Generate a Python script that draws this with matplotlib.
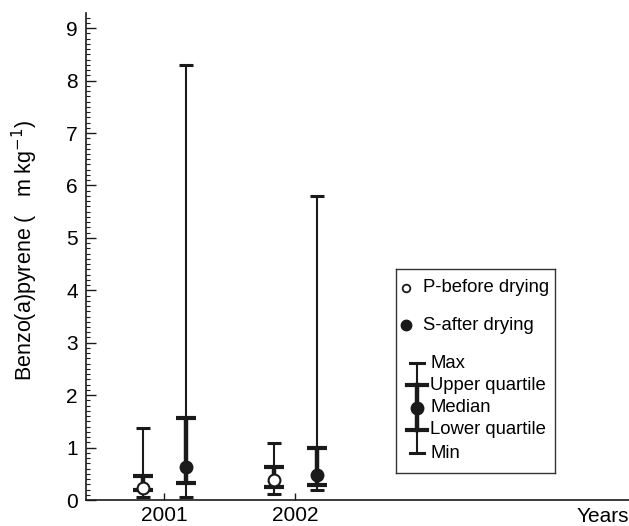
import matplotlib
matplotlib.use("Agg")
import matplotlib.pyplot as plt
import numpy as np
from matplotlib.ticker import MultipleLocator

plt.rcParams['font.family'] = ['Liberation Sans', 'DejaVu Sans']

# Data
years = [2001, 2002]
series = ["P-before drying", "S-after drying"]
p_min = [0.05, 0.11]
p_lq = [0.19, 0.25]
p_med = [0.23, 0.39]
p_uq = [0.46, 0.63]
p_max = [1.37, 1.09]
s_min = [0.05, 0.19]
s_lq = [0.32, 0.29]
s_med = [0.62, 0.48]
s_uq = [1.56, 0.99]
s_max = [8.30, 5.80]
yticks = list(range(0, 10))
xticks = [2001, 2002]

C = '#1a1a1a'
fig = plt.figure(figsize=(6.29, 5.26), dpi=100)
ax = fig.add_axes([86/629, 1-500/526, 1-86/629, (500-13)/526])

def draw(xs, mn, lq, md, uq, mx, face):
    xs = np.array(xs, float)
    mn, lq, md, uq, mx = map(np.array, (mn, lq, md, uq, mx))
    ax.errorbar(xs, md, yerr=[md-mn, mx-md], fmt='none', ecolor=C,
                elinewidth=1.5, capsize=5.2, capthick=2.2, zorder=2)
    ax.errorbar(xs, md, yerr=[md-lq, uq-md], fmt='none', ecolor=C,
                elinewidth=3.2, capsize=7.0, capthick=3.0, zorder=3)
    ax.plot(xs, md, 'o', ms=8.5, mfc=face, mec=C, mew=1.5, zorder=4, ls='none')

xp = np.array(years) - 0.16
xs_ = np.array(years) + 0.165
draw(xp, p_min, p_lq, p_med, p_uq, p_max, 'white')
draw(xs_, s_min, s_lq, s_med, s_uq, s_max, C)

ax.set_xlim(2000.405, 2004.55)
ax.set_ylim(0, 9.29)
ax.set_xticks(xticks)
ax.set_xticklabels([str(x) for x in xticks], fontsize=15)
ax.set_yticks(yticks)
ax.set_yticklabels([str(y) for y in yticks], fontsize=15)
ax.yaxis.set_minor_locator(MultipleLocator(0.1))
ax.tick_params(axis='y', which='major', direction='in', length=7, width=1, color=C, pad=6)
ax.tick_params(axis='y', which='minor', direction='in', length=3, width=0.8, color=C)
ax.tick_params(axis='x', which='major', direction='in', length=5, width=1, color=C, pad=4)
for s in ['top', 'right']:
    ax.spines[s].set_visible(False)
for s in ['left', 'bottom']:
    ax.spines[s].set_color(C)
    ax.spines[s].set_linewidth(1.2)
ax.set_ylabel("Benzo(a)pyrene (   m kg$^{-1}$)", fontsize=15.5)
ax.yaxis.set_label_coords(-46/543, (500-250)/487)
fig.text(603/629, 1-516/526, "Years", fontsize=15, ha='center', va='center')

# Legend box (inset in pixel units)
lg = fig.add_axes([396/629, 1-473/526, (555-396)/629, (473-269)/526])
lg.set_xlim(0, 159)
lg.set_ylim(204, 0)
lg.set_xticks([]); lg.set_yticks([])
for s in lg.spines.values():
    s.set_color('#333333'); s.set_linewidth(1.0)
fs = 13.3
lg.plot([10], [19], 'o', ms=5.5, mfc='white', mec=C, mew=1.3)
lg.text(27, 19, series[0], fontsize=fs, va='center', ha='left')
lg.plot([10], [56], 'o', ms=7.5, mfc=C, mec=C)
lg.text(27, 56, series[1], fontsize=fs, va='center', ha='left')
gx = 21
lg.plot([gx, gx], [94, 116], color=C, lw=1.5)
lg.plot([gx, gx], [116, 161], color=C, lw=3.2)
lg.plot([gx, gx], [161, 184], color=C, lw=1.5)
lg.plot([gx-7, gx+7], [94, 94], color=C, lw=2.2)
lg.plot([gx-7, gx+7], [184, 184], color=C, lw=2.2)
lg.plot([gx-10, gx+10], [116, 116], color=C, lw=3.0)
lg.plot([gx-10, gx+10], [161, 161], color=C, lw=3.0)
lg.plot([gx], [139], 'o', ms=9, mfc=C, mec=C)
for yy, t in zip([94, 116, 139, 161, 184], ["Max", "Upper quartile", "Median", "Lower quartile", "Min"]):
    lg.text(34, yy, t, fontsize=fs, va='center', ha='left')

fig.savefig("out.png", dpi=100)
